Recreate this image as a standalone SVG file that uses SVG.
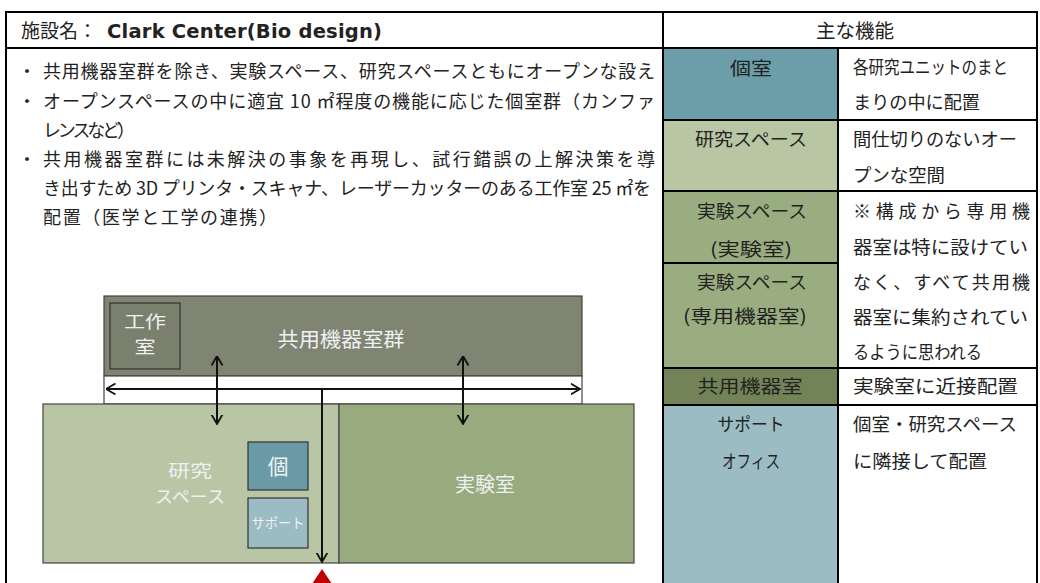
<svg xmlns="http://www.w3.org/2000/svg" width="1040" height="583" viewBox="0 0 1040 583">
<defs>
<style>
.jp{font-family:"Noto Sans CJK JP","Noto Sans CJK SC",sans-serif;fill:#222;}
.t18{font-size:18px;}
.t19{font-size:19px;}
.c{text-anchor:middle;}
.grid{stroke:#000;stroke-width:2;fill:none;}
.wh{fill:#eef0f2;font-family:"Noto Sans CJK JP",sans-serif;text-anchor:middle;}
.room{stroke:#444;stroke-width:1.2;}
.conn{stroke:#111;stroke-width:2;fill:none;}
</style>
<marker id="arr" viewBox="0 0 10 12" refX="9.5" refY="6" markerWidth="10" markerHeight="13" orient="auto-start-reverse" markerUnits="userSpaceOnUse">
<path d="M0,0.5 L9.5,6 L0,11.5" fill="none" stroke="#111" stroke-width="1.8"/>
</marker>
</defs>
<rect x="0" y="0" width="1040" height="583" fill="#fff"/>

<!-- right table cells -->
<g id="cell-koshitsu"><rect x="663" y="48" width="175" height="72" fill="#6b9ea8"/><text class="jp t18 c" x="751" y="75" textLength="42" lengthAdjust="spacingAndGlyphs">個室</text></g>
<g id="cell-kenkyu"><rect x="663" y="120" width="175" height="71" fill="#b8c6a3"/><text class="jp t18 c" x="751" y="146" textLength="112" lengthAdjust="spacingAndGlyphs">研究スペース</text></g>
<g id="cell-jikken1"><rect x="663" y="191" width="175" height="72" fill="#9aad80"/><text class="jp t18 c" x="752" y="218" textLength="110" lengthAdjust="spacingAndGlyphs">実験スペース</text><text class="jp t18 c" x="751" y="256" textLength="82" lengthAdjust="spacingAndGlyphs">(実験室)</text></g>
<g id="cell-jikken2"><rect x="663" y="263" width="175" height="105" fill="#9aad80"/><text class="jp t18 c" x="752" y="289" textLength="110" lengthAdjust="spacingAndGlyphs">実験スペース</text><text class="jp t18 c" x="745" y="323" textLength="124" lengthAdjust="spacingAndGlyphs">(専用機器室)</text></g>
<g id="cell-kyoyo"><rect x="663" y="368" width="175" height="37" fill="#728457"/><text class="jp t18 c" x="750" y="393" textLength="105" lengthAdjust="spacingAndGlyphs">共用機器室</text></g>
<g id="cell-support"><rect x="663" y="405" width="175" height="178" fill="#9bbcc3"/><text class="jp t18 c" x="751" y="431" textLength="67" lengthAdjust="spacingAndGlyphs">サポート</text><text class="jp t18 c" x="751" y="468" textLength="58" lengthAdjust="spacingAndGlyphs">オフィス</text></g>

<!-- right descriptions -->
<g id="desc">
<text class="jp t18" x="853" y="74" textLength="155" lengthAdjust="spacingAndGlyphs">各研究ユニットのまと</text>
<text class="jp t18" x="853" y="109" textLength="127" lengthAdjust="spacingAndGlyphs">まりの中に配置</text>
<text class="jp t18" x="853" y="146" textLength="164" lengthAdjust="spacingAndGlyphs">間仕切りのないオー</text>
<text class="jp t18" x="853" y="182" textLength="92" lengthAdjust="spacingAndGlyphs">プンな空間</text>
<text class="jp t18" x="853" y="218" textLength="177">※構成から専用機</text>
<text class="jp t18" x="853" y="254" textLength="175" lengthAdjust="spacingAndGlyphs">器室は特に設けてい</text>
<text class="jp t18" x="853" y="289" textLength="177">なく、すべて共用機</text>
<text class="jp t18" x="853" y="324" textLength="175" lengthAdjust="spacingAndGlyphs">器室に集約されてい</text>
<text class="jp t18" x="853" y="359" textLength="129" lengthAdjust="spacingAndGlyphs">るように思われる</text>
<text class="jp t18" x="853" y="393" textLength="165" lengthAdjust="spacingAndGlyphs">実験室に近接配置</text>
<text class="jp t18" x="853" y="431" textLength="164" lengthAdjust="spacingAndGlyphs">個室・研究スペース</text>
<text class="jp t18" x="853" y="468" textLength="134" lengthAdjust="spacingAndGlyphs">に隣接して配置</text>
</g>

<!-- table grid -->
<g id="table-grid" class="grid">
<rect x="6" y="12" width="1031" height="580"/>
<line x1="6" y1="48" x2="1037" y2="48"/>
<line x1="663" y1="12" x2="663" y2="583"/>
<line x1="838" y1="48" x2="838" y2="583"/>
<line x1="663" y1="120" x2="1037" y2="120"/>
<line x1="663" y1="191" x2="1037" y2="191"/>
<line x1="663" y1="263" x2="838" y2="263"/>
<line x1="663" y1="368" x2="1037" y2="368"/>
<line x1="663" y1="405" x2="1037" y2="405"/>
</g>

<!-- header texts -->
<g id="header">
<text class="jp t19" x="21" y="38">施設名：<tspan x="107" font-family="DejaVu Sans,Verdana,sans-serif" font-weight="bold" font-size="19.5" textLength="275">Clark Center(Bio design)</tspan></text>
<text class="jp c" font-size="19.5" x="855" y="38">主な機能</text>
</g>

<!-- bullet text -->
<g id="notes">
<text class="jp t18" x="18" y="78">・</text>
<text class="jp t18" x="43" y="78" textLength="612">共用機器室群を除き、実験スペース、研究スペースともにオープンな設え</text>
<text class="jp t18" x="18" y="108">・</text>
<text class="jp t18" x="43" y="108" textLength="612">オープンスペースの中に適宜 10 ㎡程度の機能に応じた個室群（カンファ</text>
<text class="jp t18" x="43" y="137" textLength="92">レンスなど）</text>
<text class="jp t18" x="18" y="166">・</text>
<text class="jp t18" x="43" y="166" textLength="612">共用機器室群には未解決の事象を再現し、試行錯誤の上解決策を導</text>
<text class="jp t18" x="43" y="195" textLength="608">き出すため 3D プリンタ・スキャナ、レーザーカッターのある工作室 25 ㎡を</text>
<text class="jp t18" x="43" y="224" textLength="234">配置（医学と工学の連携）</text>
</g>

<!-- diagram -->
<g id="kyoyo-group"><rect class="room" x="104" y="296" width="478" height="80" fill="#7f8572"/><text class="wh" x="341" y="347" font-size="20" textLength="127" lengthAdjust="spacingAndGlyphs">共用機器室群</text></g>
<g id="corridor"><rect class="room" x="104" y="376" width="478" height="28" fill="#fff"/></g>
<g id="kosakushitsu"><rect x="110" y="303" width="70" height="66" fill="#7b806e" stroke="#333" stroke-width="1.2"/><text class="wh" x="145" y="328" font-size="17" textLength="42" lengthAdjust="spacingAndGlyphs">工作</text><text class="wh" x="145" y="353" font-size="17" textLength="21" lengthAdjust="spacingAndGlyphs">室</text></g>
<g id="kenkyu-space"><rect class="room" x="43" y="404" width="296" height="159" fill="#b9c6a5"/><text class="wh" x="190" y="477" font-size="17.5" textLength="44" lengthAdjust="spacingAndGlyphs">研究</text><text class="wh" x="190" y="503" font-size="17.5" textLength="70" lengthAdjust="spacingAndGlyphs">スペース</text></g>
<g id="jikkenshitsu"><rect class="room" x="339" y="404" width="295" height="159" fill="#97ab7f"/><text class="wh" x="485" y="492" font-size="20">実験室</text></g>
<g id="ko"><rect x="248" y="442" width="60" height="48" fill="#6a9aa6" stroke="#333" stroke-width="1.2"/><text class="wh" x="278" y="474" font-size="21">個</text></g>
<g id="support"><rect x="248" y="498" width="60" height="50" fill="#9cbcc4" stroke="#333" stroke-width="1.2"/><text class="wh" x="278" y="528" font-size="14" textLength="53" lengthAdjust="spacingAndGlyphs">サポート</text></g>

<g id="connectors">
<line class="conn" x1="106" y1="389" x2="580" y2="389" marker-start="url(#arr)" marker-end="url(#arr)"/>
<line class="conn" x1="217" y1="356" x2="217" y2="424" marker-start="url(#arr)" marker-end="url(#arr)"/>
<line class="conn" x1="463" y1="356" x2="463" y2="424" marker-start="url(#arr)" marker-end="url(#arr)"/>
<line class="conn" x1="322" y1="389" x2="322" y2="562" marker-end="url(#arr)"/>
</g>
<g id="entrance"><polygon points="322,569 312,584 332,584" fill="#c00000"/></g>
</svg>
